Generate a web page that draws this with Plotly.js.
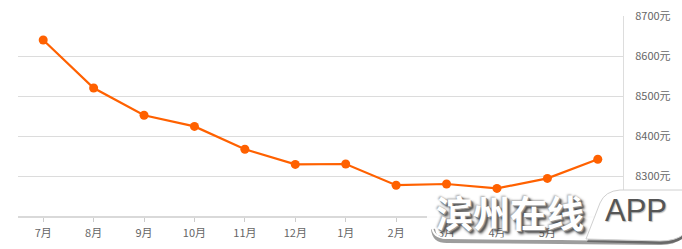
<!DOCTYPE html>
<html>
<head>
<meta charset="utf-8">
<script src="https://cdn.plot.ly/plotly-3.0.1.min.js"></script>
<style>
  html, body { margin: 0; padding: 0; background: #fff; }
  #chart { width: 682px; height: 249px; }
</style>
</head>
<body>
<div id="chart"></div>
<script>
// Monthly average price, 7月 through 6月
const months = ['7月', '8月', '9月', '10月', '11月', '12月', '1月', '2月', '3月', '4月', '5月', '6月'];
const prices = [8640, 8520, 8452, 8424, 8367, 8329, 8330, 8277, 8280, 8269, 8294, 8342];
const priceTicks = [8300, 8400, 8500, 8600, 8700];
const priceTickText = ['8300元', '8400元', '8500元', '8600元', '8700元'];

// Figure geometry (pixels)
const W = 682, H = 249;
const M = { l: 18, r: 59, t: 16, b: 33 };
const PW = W - M.l - M.r, PH = H - M.t - M.b;

// Convert a pixel position on the page into paper coordinates
const fx = px => (px - M.l) / PW;
const fy = py => (H - M.b - py) / PH;

// Build an SVG path in paper coordinates from pixel points
function path(cmds, dx = 0, dy = 0) {
  return cmds.map(c => {
    const [op, ...pts] = c;
    return op + pts.map(p => fx(p[0] + dx).toFixed(5) + ',' + fy(p[1] + dy).toFixed(5)).join(' ');
  }).join(' ');
}

// Badge outline used for the logo in the lower right
const edgeCmds = [['M', [432, 226]], ['Q', [433, 238], [446, 238]], ['L', [660, 240]], ['Q', [676, 240], [684, 230]]];
const appCmds = [['M', [586, 239]], ['L', [600, 203]], ['Q', [605, 191], [620, 190]], ['L', [684, 190]], ['L', [684, 234]], ['Q', [676, 241], [660, 241]], ['Z']];

const shapes = [
  { type: 'rect', xref: 'paper', yref: 'paper', x0: fx(427), x1: fx(600), y0: fy(226), y1: fy(193),
    fillcolor: 'rgba(255,255,255,0.9)', line: { width: 0 }, layer: 'above' },
  { type: 'path', xref: 'paper', yref: 'paper', path: path(edgeCmds, 1, 3),
    line: { color: 'rgba(60,60,60,0.5)', width: 4 }, layer: 'above' },
  { type: 'path', xref: 'paper', yref: 'paper', path: path(edgeCmds),
    line: { color: '#ffffff', width: 2 }, layer: 'above' },
  { type: 'path', xref: 'paper', yref: 'paper', path: path(appCmds, 1, 3),
    fillcolor: 'rgba(40,40,40,0.45)', line: { width: 0 }, layer: 'above' },
  { type: 'path', xref: 'paper', yref: 'paper', path: path(appCmds),
    fillcolor: '#ffffff', line: { color: '#d0d0d0', width: 1 }, layer: 'above' }
];

const annotations = [
  { xref: 'paper', yref: 'paper', x: fx(510), y: fy(212), xanchor: 'center', yanchor: 'middle',
    text: '滨州在线', showarrow: false,
    font: { family: '"Noto Sans CJK SC", sans-serif', size: 37, weight: 700, color: '#ffffff',
            shadow: '1px 1px 0 #999, 2px 2px 1px #666, 3px 3px 3px #333, -1px -1px 2px #aaa' } },
  { xref: 'paper', yref: 'paper', x: fx(636), y: fy(210), xanchor: 'center', yanchor: 'middle',
    text: 'APP', showarrow: false,
    font: { family: '"Liberation Sans Narrow", "Liberation Sans", Arial, sans-serif', size: 31, color: '#555555',
            shadow: '1px 1px 1px #bbb' } }
];

const trace = {
  type: 'scatter',
  mode: 'lines+markers',
  x: months,
  y: prices,
  line: { color: '#ff6100', width: 2.2 },
  marker: { color: '#ff6100', size: 9 },
  hoverinfo: 'none'
};

const layout = {
  width: W, height: H,
  margin: M,
  paper_bgcolor: '#ffffff',
  plot_bgcolor: '#ffffff',
  showlegend: false,
  font: { family: '"Noto Sans CJK SC", "Microsoft YaHei", sans-serif', size: 11, color: '#666666' },
  xaxis: {
    type: 'category',
    range: [-0.5, 11.5],
    showgrid: false, zeroline: false,
    showline: true, linecolor: '#d9d9d9', linewidth: 2,
    ticks: 'outside', ticklen: 4, tickcolor: '#cccccc', tickwidth: 1,
    ticklabelstandoff: 2,
    tickfont: { size: 11, color: '#666666' },
    fixedrange: true
  },
  yaxis: {
    side: 'right',
    range: [8200, 8700],
    tickvals: priceTicks,
    ticktext: priceTickText,
    showgrid: true, gridcolor: '#dcdcdc', gridwidth: 1,
    zeroline: false,
    showline: true, linecolor: '#dddddd', linewidth: 1,
    ticks: '', ticklabelstandoff: 9,
    tickfont: { size: 11, color: '#666666' },
    fixedrange: true
  },
  shapes: shapes,
  annotations: annotations
};

Plotly.newPlot('chart', [trace], layout, { staticPlot: true, displayModeBar: false });
</script>
</body>
</html>
